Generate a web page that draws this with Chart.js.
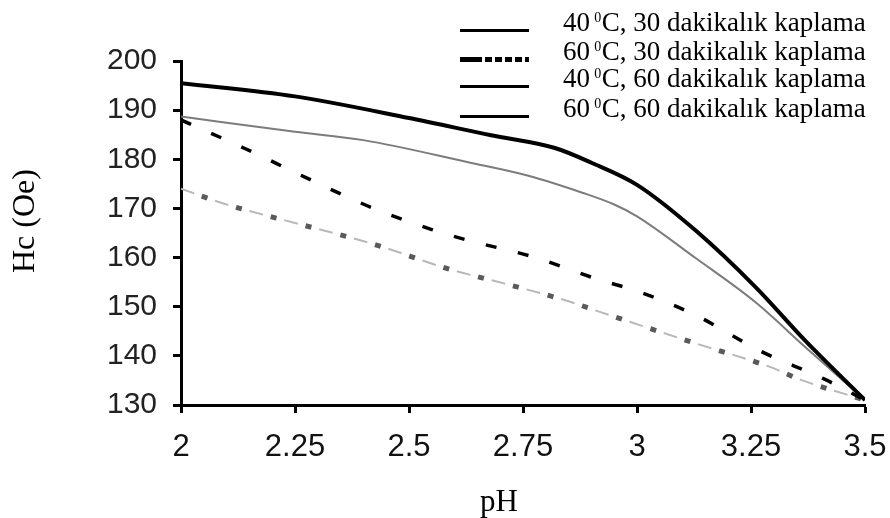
<!DOCTYPE html>
<html>
<head>
<meta charset="utf-8">
<script src="https://cdn.jsdelivr.net/npm/chart.js@4.4.1/dist/chart.umd.min.js"></script>
<style>
  html, body { margin: 0; padding: 0; background: #ffffff; }
  #wrap { width: 890px; height: 518px; }
</style>
</head>
<body>
<div id="wrap"><canvas id="chart" width="890" height="518"></canvas></div>
<script>
// Coercivity (Hc, Oe) against bath pH for four coating conditions
const ph_40C_30min = [2.0, 2.25, 2.5, 2.68, 2.82, 2.9, 3.0, 3.13, 3.26, 3.37, 3.5];
const hc_40C_30min = [195.5, 192.8, 188.4, 184.9, 182.3, 179.3, 174.8, 165.4, 154.0, 143.0, 131.0];

const ph_60C_30min = [2.0, 2.14, 2.28, 2.42, 2.55, 2.63, 2.77, 2.92, 3.0, 3.13, 3.27, 3.41, 3.5];
const hc_60C_30min = [188.0, 182.2, 176.0, 170.1, 165.7, 163.5, 160.2, 155.4, 153.2, 148.2, 141.0, 135.3, 131.0];

const ph_40C_60min = [2.0, 2.25, 2.4, 2.63, 2.76, 2.88, 2.95, 3.0, 3.13, 3.26, 3.37, 3.5];
const hc_40C_60min = [188.7, 185.6, 183.9, 179.4, 176.7, 173.2, 170.8, 168.4, 159.8, 150.9, 141.7, 131.0];

const ph_60C_60min = [2.0, 2.1, 2.26, 2.42, 2.59, 2.71, 2.85, 2.92, 3.13, 3.29, 3.36, 3.5];
const hc_60C_60min = [174.0, 170.8, 166.8, 162.8, 157.6, 154.7, 151.1, 148.9, 142.5, 137.8, 135.1, 131.0];

const seriesNames = [
  '40 ⁰C, 30 dakikalık kaplama',
  '60 ⁰C, 30 dakikalık kaplama',
  '40 ⁰C, 60 dakikalık kaplama',
  '60 ⁰C, 60 dakikalık kaplama'
];

const xTickLabels = ['2', '2.25', '2.5', '2.75', '3', '3.25', '3.5'];
const yTickLabels = ['130', '140', '150', '160', '170', '180', '190', '200'];
const xTitle = 'pH';
const yTitle = 'Hc (Oe)';

const toPoints = (xs, ys) => xs.map((x, i) => ({ x: x, y: ys[i] }));

const serif = '"Liberation Serif", "Times New Roman", serif';

// Key in the top right corner (line sample + label with a raised "0"),
// plus the two axis titles in Times-style type
const annotatePlugin = {
  id: 'annotate',
  afterDraw(chart) {
    const ctx = chart.ctx;
    const lineX0 = 460, lineX1 = 529, textX = 563;
    const baselines = [31, 60, 87, 117];
    const dashes = [[], [22, 3, 7, 3, 7, 3, 7, 3, 7, 3], [], []];
    const widths = [3, 5, 3, 3];
    const mainFont = '27px ' + serif;
    const supFont = '14px ' + serif;
    ctx.save();
    seriesNames.forEach((name, i) => {
      const yb = baselines[i];
      ctx.beginPath();
      ctx.setLineDash(dashes[i]);
      ctx.lineWidth = widths[i];
      ctx.strokeStyle = '#000';
      ctx.lineCap = 'butt';
      ctx.moveTo(lineX0, yb - 0.5);
      ctx.lineTo(lineX1, yb - 0.5);
      ctx.stroke();
      ctx.setLineDash([]);

      const parts = name.split('⁰');
      ctx.fillStyle = '#000';
      ctx.textBaseline = 'alphabetic';
      ctx.textAlign = 'left';
      let x = textX;
      ctx.font = mainFont;
      ctx.fillText(parts[0], x, yb);
      x += ctx.measureText(parts[0]).width - 2.5;
      ctx.font = supFont;
      ctx.fillText('0', x, yb - 9);
      x += ctx.measureText('0').width + 0.5;
      ctx.font = mainFont;
      ctx.fillText(parts[1], x, yb);
    });

    // x-axis title
    ctx.font = '31px ' + serif;
    ctx.textAlign = 'center';
    ctx.textBaseline = 'alphabetic';
    ctx.fillText(xTitle, 499, 511);

    // y-axis title, reading upwards
    ctx.translate(34, 273);
    ctx.rotate(-Math.PI / 2);
    ctx.font = '32px ' + serif;
    ctx.textAlign = 'left';
    ctx.fillText(yTitle, 0, 0);
    ctx.restore();
  }
};

const axisGrid = {
  display: true,
  drawOnChartArea: false,
  drawTicks: true,
  tickLength: 8,
  tickWidth: 3,
  tickColor: '#000'
};
const axisBorder = { display: true, width: 3, color: '#000' };

new Chart(document.getElementById('chart').getContext('2d'), {
  type: 'line',
  data: {
    datasets: [
      {
        label: seriesNames[0],
        data: toPoints(ph_40C_30min, hc_40C_30min),
        borderColor: '#000000',
        borderWidth: 4
      },
      {
        label: seriesNames[2],
        data: toPoints(ph_40C_60min, hc_40C_60min),
        borderColor: '#7c7c7c',
        borderWidth: 2
      },
      {
        label: seriesNames[1],
        data: toPoints(ph_60C_30min, hc_60C_30min),
        borderColor: '#000000',
        borderWidth: 3.5,
        borderDash: [11, 22]
      },
      {
        label: seriesNames[3],
        data: toPoints(ph_60C_60min, hc_60C_60min),
        borderColor: '#b8b8b8',
        borderWidth: 2,
        borderDash: [14, 22]
      },
      {
        label: seriesNames[3] + ' ',
        data: toPoints(ph_60C_60min, hc_60C_60min),
        borderColor: '#5a5a5a',
        borderWidth: 5,
        borderDash: [6, 30],
        borderDashOffset: -22
      }
    ]
  },
  options: {
    responsive: false,
    animation: false,
    devicePixelRatio: 1,
    layout: { padding: { left: 5, right: 25, top: 61, bottom: 6 } },
    elements: {
      point: { radius: 0, hoverRadius: 0 },
      line: { cubicInterpolationMode: 'monotone', fill: false }
    },
    plugins: {
      legend: { display: false },
      tooltip: { enabled: false }
    },
    scales: {
      x: {
        type: 'linear',
        min: parseFloat(xTickLabels[0]),
        max: parseFloat(xTickLabels[xTickLabels.length - 1]),
        afterBuildTicks: s => { s.ticks = xTickLabels.map(l => ({ value: parseFloat(l) })); },
        afterFit: s => { s.height = 107; s.paddingLeft = 0; s.paddingRight = 0; },
        ticks: {
          autoSkip: false,
          maxRotation: 0,
          padding: 16,
          color: '#111',
          font: { family: '"Liberation Sans", Arial, sans-serif', size: 31 },
          callback: v => xTickLabels.find(l => parseFloat(l) === v)
        },
        grid: axisGrid,
        border: axisBorder,
        title: { display: false }
      },
      y: {
        type: 'linear',
        min: parseFloat(yTickLabels[0]),
        max: parseFloat(yTickLabels[yTickLabels.length - 1]),
        afterBuildTicks: s => { s.ticks = yTickLabels.map(l => ({ value: parseFloat(l) })); },
        afterFit: s => { s.width = 176; s.paddingTop = 0; s.paddingBottom = 0; },
        ticks: {
          autoSkip: false,
          padding: 16,
          color: '#222',
          font: { family: '"Liberation Sans", Arial, sans-serif', size: 30 },
          callback: v => yTickLabels.find(l => parseFloat(l) === v)
        },
        grid: axisGrid,
        border: axisBorder,
        title: { display: false }
      }
    }
  },
  plugins: [annotatePlugin]
});
</script>
</body>
</html>
